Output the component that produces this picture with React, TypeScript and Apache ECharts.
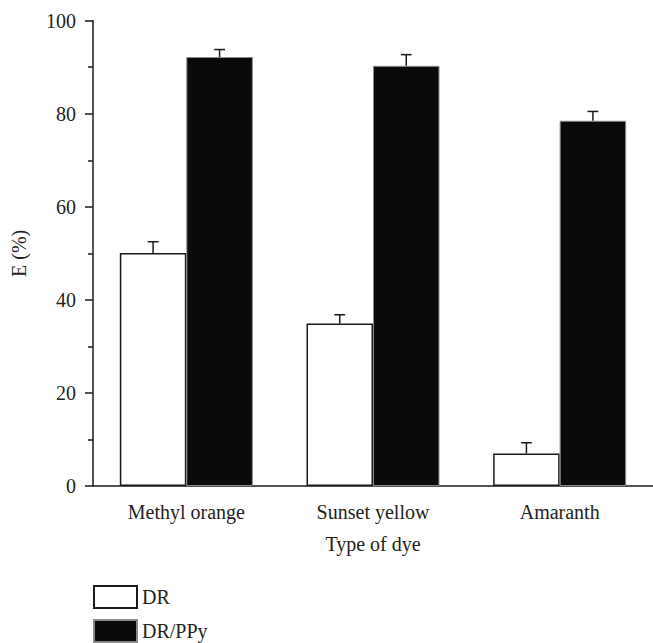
import React, { useEffect, useRef } from "react";
import * as echarts from "echarts";

const categories = ["Methyl orange", "Sunset yellow", "Amaranth"];
const drValues = [50.1, 34.9, 7.0];
const drErrors = [2.4, 1.9, 2.3];
const drPPyValues = [92.2, 90.3, 78.5];
const drPPyErrors = [1.6, 2.4, 2.0];
const yTicks = { min: 0, max: 100, interval: 20 };

const FONT = "Liberation Serif";
const TEXT = "#231f20";
const BAR_W = 66.5;

function errorSeries(values: number[], errors: number[], side: number) {
  return {
    type: "custom",
    xAxisIndex: 0,
    yAxisIndex: 0,
    silent: true,
    z: 5,
    data: values.map((v, i) => [i, v, errors[i]]),
    encode: { x: 0, y: 1 },
    renderItem: (params: any, api: any) => {
      const i = api.value(0);
      const v = api.value(1);
      const e = api.value(2);
      const base = api.coord([i, v]);
      const top = api.coord([i, v + e]);
      const x = base[0] + (side * BAR_W) / 2;
      const cap = 5.4;
      return {
        type: "group",
        children: [
          {
            type: "line",
            shape: { x1: x, y1: base[1], x2: x, y2: top[1] },
            style: { stroke: "#1a1a1a", lineWidth: 1.5 },
          },
          {
            type: "line",
            shape: { x1: x - cap, y1: top[1], x2: x + cap, y2: top[1] },
            style: { stroke: "#1a1a1a", lineWidth: 1.5 },
          },
        ],
      };
    },
  };
}

export default function App() {
  const ref = useRef<HTMLDivElement>(null);
  useEffect(() => {
    if (!ref.current) return;
    const chart = echarts.init(ref.current, null, { renderer: "svg" });
    chart.setOption({
      animation: false,
      textStyle: { fontFamily: FONT, color: TEXT },
      grid: { left: 93, top: 20.7, width: 566.6, height: 465.3, containLabel: false },
      legend: {
        orient: "vertical",
        left: 93,
        top: 585,
        width: 200,
        height: 100,
        padding: 0,
        itemWidth: 43,
        itemHeight: 22,
        itemGap: 10,
        icon: "rect",
        textStyle: { fontFamily: FONT, fontSize: 20, color: TEXT, lineHeight: 20 },
        data: ["DR", "DR/PPy"],
      },
      xAxis: [
        {
          type: "category",
          data: categories,
          boundaryGap: true,
          name: "Type of dye",
          nameLocation: "middle",
          nameGap: 48,
          nameTextStyle: { fontFamily: FONT, fontSize: 20, color: TEXT },
          axisLine: { lineStyle: { color: "#1a1a1a", width: 1.5 } },
          axisTick: { alignWithLabel: true, length: 9, lineStyle: { color: "#1a1a1a", width: 1.5 } },
          axisLabel: { margin: 16, fontFamily: FONT, fontSize: 20, color: TEXT },
          splitLine: { show: false },
        },
        {
          type: "category",
          data: categories,
          boundaryGap: true,
          position: "bottom",
          axisLine: { show: false },
          axisTick: { length: 5, lineStyle: { color: "#1a1a1a", width: 1.5 } },
          axisLabel: { show: false },
          splitLine: { show: false },
        },
      ],
      yAxis: {
        type: "value",
        min: yTicks.min,
        max: yTicks.max,
        interval: yTicks.interval,
        name: "E (%)",
        nameLocation: "middle",
        nameGap: 64,
        nameTextStyle: { fontFamily: FONT, fontSize: 20, color: TEXT },
        axisLine: { show: true, lineStyle: { color: "#1a1a1a", width: 1.5 } },
        axisTick: { show: true, length: 8, lineStyle: { color: "#1a1a1a", width: 1.5 } },
        minorTick: { show: true, splitNumber: 2, length: 5, lineStyle: { color: "#1a1a1a", width: 1.5 } },
        axisLabel: { margin: 17, fontFamily: FONT, fontSize: 20, color: TEXT },
        splitLine: { show: false },
      },
      series: [
        {
          name: "DR",
          type: "bar",
          data: drValues,
          barWidth: BAR_W,
          barGap: "0%",
          itemStyle: { color: "#ffffff", borderColor: "#1a1a1a", borderWidth: 1.5 },
        },
        {
          name: "DR/PPy",
          type: "bar",
          data: drPPyValues,
          barWidth: BAR_W,
          barGap: "0%",
          itemStyle: { color: "#0a0a08", borderColor: "#8a8a8a", borderWidth: 1 },
        },
        errorSeries(drValues, drErrors, -1),
        errorSeries(drPPyValues, drPPyErrors, 1),
      ],
    });
    return () => chart.dispose();
  }, []);
  return <div ref={ref} style={{ width: 653, height: 643, position: "absolute", left: 0, top: 0 }} />;
}
